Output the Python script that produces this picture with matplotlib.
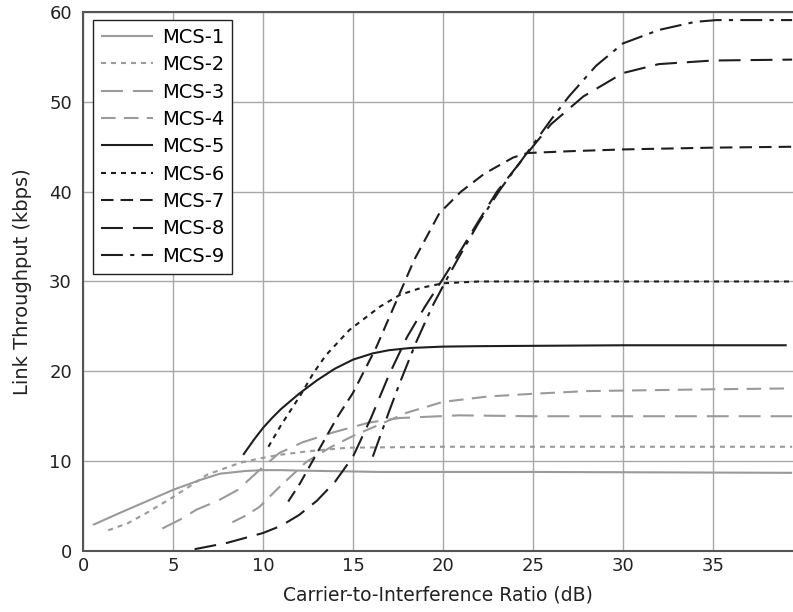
import matplotlib
matplotlib.use("Agg")
import matplotlib.pyplot as plt

# Link throughput vs C/I per MCS
labels = ["MCS-1", "MCS-2", "MCS-3", "MCS-4", "MCS-5", "MCS-6", "MCS-7", "MCS-8", "MCS-9"]

mcs1_x = [0.55, 2, 3.5, 5, 6.5, 7.6, 9, 10, 11, 12, 16.5, 25, 39.4]
mcs1_y = [2.9, 4.2, 5.5, 6.8, 7.9, 8.6, 8.9, 9.0, 9.0, 8.95, 8.8, 8.8, 8.7]

mcs2_x = [1.4, 2.5, 3.5, 5, 6, 6.9, 8, 8.7, 9.8, 10.9, 12.5, 14.7, 20, 39.4]
mcs2_y = [2.3, 3.1, 4.2, 6.0, 7.3, 8.5, 9.3, 9.8, 10.3, 10.7, 11.1, 11.5, 11.6, 11.6]

mcs3_x = [4.4, 5.5, 6.3, 7.5, 8.6, 9.8, 10.9, 12.2, 13.9, 15.9, 17.6, 20.9, 25, 39.4]
mcs3_y = [2.5, 3.6, 4.6, 5.6, 6.8, 9.0, 10.9, 12.1, 13.2, 14.3, 14.8, 15.1, 15.0, 15.0]

mcs4_x = [8.3, 9, 9.8, 10.9, 12.4, 13.8, 15, 16.5, 18, 20, 22.5, 25, 28, 31.5, 35, 39.4]
mcs4_y = [3.2, 3.9, 4.9, 7.1, 9.9, 11.6, 12.8, 14.1, 15.4, 16.6, 17.2, 17.5, 17.8, 17.9, 18.0, 18.1]

mcs5_x = [8.9, 9.5, 10, 10.5, 11, 12, 13, 14, 15, 16.1, 17, 18.2, 20, 22, 30, 39.1]
mcs5_y = [10.7, 12.4, 13.7, 14.8, 15.8, 17.5, 19.0, 20.3, 21.3, 22.0, 22.35, 22.6, 22.75, 22.8, 22.9, 22.9]

mcs6_x = [10.3, 11, 12.1, 12.8, 13.5, 14.8, 16.5, 17.6, 18.8, 20, 22, 39.4]
mcs6_y = [11.6, 14.0, 17.4, 19.8, 21.8, 24.6, 27.2, 28.5, 29.3, 29.8, 30.0, 30.0]

mcs7_x = [11.4, 12.05, 13.2, 14.1, 15, 16.3, 17.6, 18.4, 19.8, 21, 22.3, 23.9, 24.7, 27, 30, 35, 39.4]
mcs7_y = [5.5, 7.5, 11.6, 14.8, 17.6, 22.7, 28.7, 32.4, 37.6, 40, 42, 43.8, 44.3, 44.5, 44.7, 44.9, 45.0]

mcs8_x = [6.2, 8, 10, 11, 12, 13, 14, 15, 16, 17, 18, 19, 20, 21, 22, 23, 24.7, 26, 27.8, 30, 32, 35, 39.4]
mcs8_y = [0.2, 0.9, 2.0, 2.8, 4.0, 5.6, 7.7, 10.5, 14.8, 19.6, 23.8, 27.2, 30.3, 33.5, 36.8, 40.0, 44.3, 47.5, 50.6, 53.2, 54.2, 54.6, 54.7]

mcs9_x = [16.1, 17, 17.6, 18.5, 19.4, 20.3, 20.8, 22, 23.2, 24.7, 26, 27, 28.5, 30, 32, 34, 35.2, 39.4]
mcs9_y = [10.5, 15.5, 18.7, 23.2, 27.2, 30.6, 32.4, 36.6, 40.3, 44.4, 48, 50.6, 54, 56.5, 58, 58.9, 59.1, 59.1]

xs = [mcs1_x, mcs2_x, mcs3_x, mcs4_x, mcs5_x, mcs6_x, mcs7_x, mcs8_x, mcs9_x]
ys = [mcs1_y, mcs2_y, mcs3_y, mcs4_y, mcs5_y, mcs6_y, mcs7_y, mcs8_y, mcs9_y]

GRAY = "#9a9a9a"
BLACK = "#1e1e1e"
styles = [
    (GRAY, (0, ())),
    (GRAY, (0, (2.4, 2.4))),
    (GRAY, (0, (10.5, 4.8))),
    (GRAY, (0, (7.0, 4.0))),
    (BLACK, (0, ())),
    (BLACK, (0, (2.4, 2.4))),
    (BLACK, (0, (6.0, 3.4))),
    (BLACK, (0, (10.5, 4.8))),
    (BLACK, (0, (10.5, 3.5, 2.0, 3.5))),
]

plt.rcParams['font.family'] = ['DejaVu Sans']

fig = plt.figure(figsize=(7.93, 6.12), dpi=100)
ax = fig.add_axes([0.1047, 0.0997, 0.8953, 0.8807])

for x, y, lab, (col, ls) in zip(xs, ys, labels, styles):
    ax.plot(x, y, color=col, linestyle=ls, linewidth=1.5, label=lab)

ax.set_xlim(0, 39.45)
ax.set_ylim(0, 60)
ax.set_xticks(range(0, 40, 5))
ax.set_yticks(range(0, 61, 10))
ax.grid(True, color="#a8a8a8", linewidth=1.0)
ax.set_axisbelow(True)
ax.tick_params(length=0, labelsize=13, colors="#222222")
ax.tick_params(axis="y", pad=8)
ax.tick_params(axis="x", pad=4)

for side in ["left", "top", "bottom"]:
    ax.spines[side].set_color("#555555")
    ax.spines[side].set_linewidth(1.5)
ax.spines["right"].set_visible(False)

ax.set_xlabel("Carrier-to-Interference Ratio (dB)", fontsize=13.5, labelpad=8, color="#222222")
ax.set_ylabel("Link Throughput (kbps)", fontsize=14, labelpad=12, color="#222222")

leg = ax.legend(loc="upper left", bbox_to_anchor=(0.014, 0.985), borderaxespad=0,
                fontsize=14, handlelength=2.7, handletextpad=0.45, labelspacing=0.43,
                borderpad=0.4, fancybox=False, framealpha=1.0)
leg.get_frame().set_edgecolor("#222222")
leg.get_frame().set_linewidth(1.0)

fig.savefig("out.png", dpi=100)
